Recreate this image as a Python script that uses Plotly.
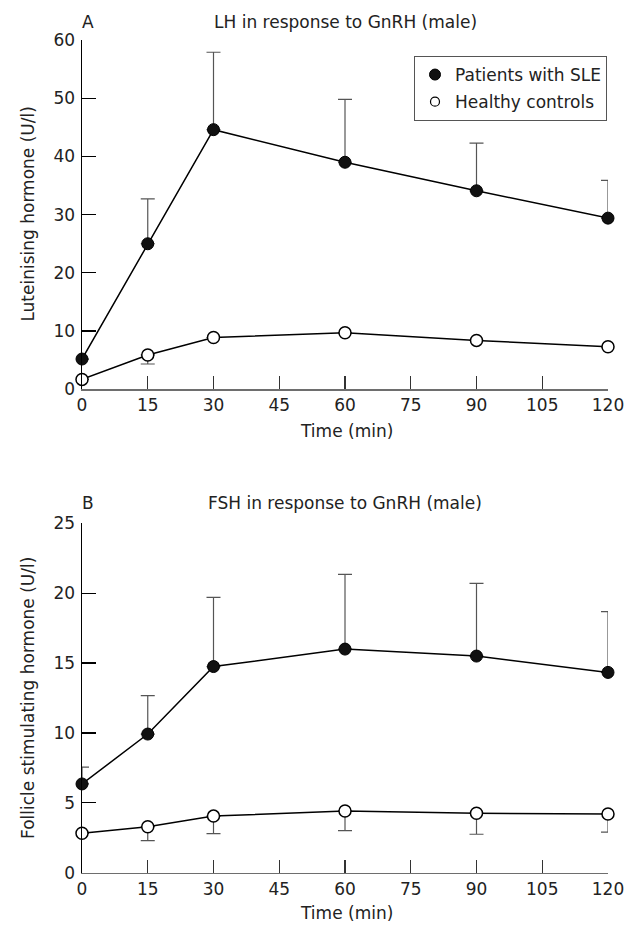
import plotly.graph_objects as go

W, H = 632, 926

time_min = [0, 15, 30, 60, 90, 120]
x_ticks = [0, 15, 30, 45, 60, 75, 90, 105, 120]

# Panel A: LH (U/l)
lh_sle = [5.2, 25.0, 44.6, 39.0, 34.1, 29.4]
lh_sle_err = [0, 7.7, 13.3, 10.8, 8.2, 6.5]
lh_ctrl = [1.7, 5.9, 8.9, 9.7, 8.4, 7.3]
lh_ctrl_err = [0, 1.55, 0, 0, 0, 0]

# Panel B: FSH (U/l)
fsh_sle = [6.35, 9.92, 14.75, 16.0, 15.5, 14.33]
fsh_sle_err = [1.2, 2.75, 4.95, 5.35, 5.2, 4.35]
fsh_ctrl = [2.82, 3.29, 4.05, 4.41, 4.25, 4.2]
fsh_ctrl_err = [0, 1.0, 1.26, 1.4, 1.5, 1.3]

series_names = ["Patients with SLE", "Healthy controls"]
panel_labels = ["A", "B"]
panel_titles = ["LH in response to GnRH (male)", "FSH in response to GnRH (male)"]
y_titles = ["Luteinising hormone (U/l)", "Follicle stimulating hormone (U/l)"]
x_title = "Time (min)"
yA_ticks = [0, 10, 20, 30, 40, 50, 60]
yB_ticks = [0, 5, 10, 15, 20, 25]

FONT = "DejaVu Sans"
FS = 17
TXT = "#222222"

def px(x):
    return x / W

def py(y):
    return 1 - y / H

fig = go.Figure()

err_style = dict(color="#555555", thickness=1.2, width=7)
line_style = dict(color="black", width=1.5)

def add_panel(xa, ya, sle, sle_err, ctrl, ctrl_err):
    fig.add_trace(go.Scatter(
        x=time_min, y=ctrl, mode="lines+markers", xaxis=xa, yaxis=ya,
        line=line_style, cliponaxis=False, showlegend=False,
        marker=dict(symbol="circle", size=12, color="white",
                    line=dict(color="black", width=1.5)),
        error_y=dict(type="data", symmetric=False, array=[0]*len(ctrl),
                     arrayminus=ctrl_err, **err_style)))
    fig.add_trace(go.Scatter(
        x=time_min, y=sle, mode="lines+markers", xaxis=xa, yaxis=ya,
        line=line_style, cliponaxis=False, showlegend=False,
        marker=dict(symbol="circle", size=12, color="#111111",
                    line=dict(color="black", width=1)),
        error_y=dict(type="data", symmetric=False, array=sle_err,
                     arrayminus=[0]*len(sle), **err_style)))

add_panel("x", "y", lh_sle, lh_sle_err, lh_ctrl, lh_ctrl_err)
add_panel("x2", "y2", fsh_sle, fsh_sle_err, fsh_ctrl, fsh_ctrl_err)

# legend-only entries
fig.add_trace(go.Scatter(x=[None], y=[None], mode="markers", name=series_names[0],
                         legendgroup="a",
                         marker=dict(size=11, color="#111111", line=dict(color="black", width=1))))
fig.add_trace(go.Scatter(x=[None], y=[None], mode="markers", name=series_names[1],
                         legendgroup="b",
                         marker=dict(size=9, color="white", line=dict(color="black", width=1.2))))

xdom = [px(82), px(608)]
xaxis_common = dict(
    range=[0, 120], tickvals=x_ticks, ticktext=[str(v) for v in x_ticks],
    ticks="inside", ticklen=13, tickwidth=1.2, tickcolor="#333333",
    showline=True, linecolor="#6e6e6e", linewidth=1.5, showgrid=False,
    zeroline=False, tickfont=dict(family=FONT, size=FS, color=TXT),
    domain=xdom, fixedrange=True, automargin=False,
)
yaxis_common = dict(
    ticks="inside", ticklen=14, tickwidth=1.2, tickcolor="black",
    showline=True, linecolor="black", linewidth=1.5, showgrid=False,
    zeroline=False, tickfont=dict(family=FONT, size=FS, color=TXT),
    fixedrange=True, automargin=False, ticklabelstandoff=2,
)

fig.update_layout(
    width=W, height=H,
    margin=dict(l=0, r=0, t=0, b=0),
    paper_bgcolor="white", plot_bgcolor="white",
    font=dict(family=FONT, size=FS, color=TXT),
    xaxis=dict(anchor="y", **xaxis_common),
    xaxis2=dict(anchor="y2", **xaxis_common),
    yaxis=dict(anchor="x", range=[0, 60], tickvals=yA_ticks,
               domain=[py(389.3), py(40)], **yaxis_common),
    yaxis2=dict(anchor="x2", range=[0, 25], tickvals=yB_ticks,
                domain=[py(872.7), py(523.3)], **yaxis_common),
    legend=dict(x=px(414), y=py(56), xanchor="left", yanchor="top",
                bordercolor="#555555", borderwidth=1, bgcolor="white",
                font=dict(family=FONT, size=FS, color=TXT),
                tracegroupgap=2, itemsizing="trace"),
    showlegend=True,
)

annos = []
for lbl, ttl, ytit, yc, ymid in [
        (panel_labels[0], panel_titles[0], y_titles[0], 22, 214.6),
        (panel_labels[1], panel_titles[1], y_titles[1], 503, 698)]:
    annos.append(dict(text=lbl, x=px(88), y=py(yc), xref="paper", yref="paper",
                      showarrow=False, xanchor="center", yanchor="middle",
                      font=dict(family=FONT, size=FS, color=TXT)))
    annos.append(dict(text=ttl, x=px(345), y=py(yc), xref="paper", yref="paper",
                      showarrow=False, xanchor="center", yanchor="middle",
                      font=dict(family=FONT, size=FS, color=TXT)))
    annos.append(dict(text=ytit, x=px(28), y=py(ymid), xref="paper", yref="paper",
                      showarrow=False, xanchor="center", yanchor="middle", textangle=-90,
                      font=dict(family=FONT, size=FS, color=TXT)))
annos.append(dict(text=x_title, x=px(346), y=py(431.5), xref="paper", yref="paper",
                  showarrow=False, xanchor="center", yanchor="middle",
                  font=dict(family=FONT, size=FS, color=TXT)))
annos.append(dict(text=x_title, x=px(346), y=py(913), xref="paper", yref="paper",
                  showarrow=False, xanchor="center", yanchor="middle",
                  font=dict(family=FONT, size=FS, color=TXT)))
fig.update_layout(annotations=annos)

fig.write_html("out.html",
               config={"displayModeBar": False, "staticPlot": True},
               post_script="document.body.style.margin='0px';document.body.style.padding='0px';")
